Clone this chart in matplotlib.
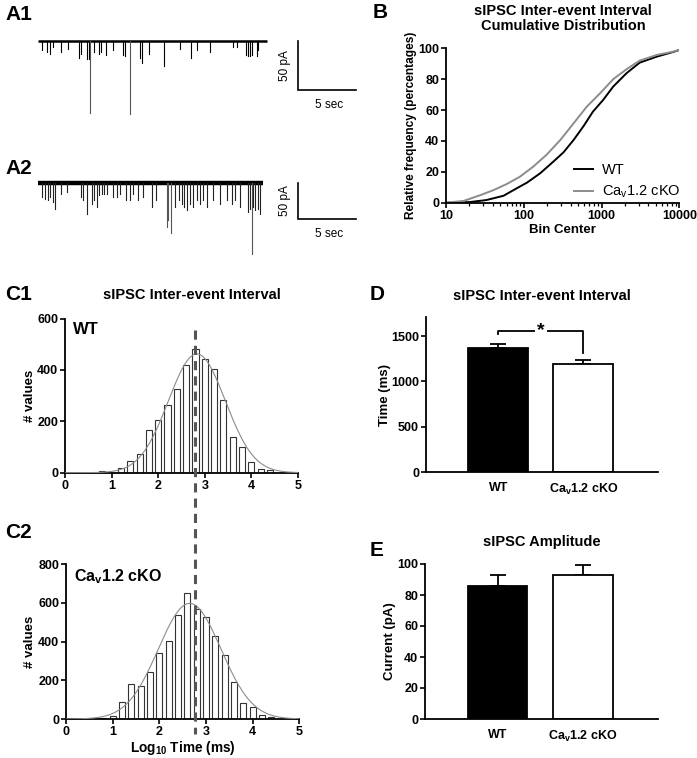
import numpy as np
import matplotlib
matplotlib.use("Agg")
import matplotlib.pyplot as plt
from matplotlib.lines import Line2D
import matplotlib.transforms as mtransforms

plt.rcParams['font.family'] = ['Liberation Sans', 'DejaVu Sans']
plt.rcParams['font.weight'] = 'bold'
plt.rcParams['axes.labelweight'] = 'bold'
plt.rcParams['mathtext.default'] = 'regular'

W, H = 697, 758

# --- data ---
# A1 / A2: spontaneous IPSC events (time in s, amplitude in pA, downward)
a1_len = 19.7
a1_t = [0.32, 0.75, 1.03, 1.32, 1.98, 2.61, 3.53, 3.71, 4.25, 4.43, 4.51, 4.86, 5.26,
        5.40, 5.86, 6.44, 7.36, 7.50, 7.96, 8.79, 8.94, 9.57, 10.86, 12.24, 13.19,
        13.68, 14.83, 16.84, 17.13, 17.93, 18.10, 18.28, 18.48, 18.85, 19.0]
a1_amp = [9, 11, 13, 6, 11, 8, 18, 13, 19, 19, 73, 11, 13, 11, 14, 9, 14, 16, 74, 18,
          23, 13, 26, 8, 18, 9, 11, 6, 6, 14, 16, 16, 14, 16, 9]
a2_len = 19.4
a2_t = [0.32, 0.60, 0.89, 1.03, 1.32, 1.47, 1.98, 2.47, 3.71, 3.85, 4.25, 4.63, 4.86,
        5.06, 5.26, 5.49, 5.69, 5.92, 6.49, 6.78, 7.07, 7.59, 7.93, 8.22, 8.65, 9.08,
        9.80, 10.17, 11.09, 11.24, 11.44, 11.81, 12.16, 12.39, 12.61, 12.87, 13.10,
        13.39, 13.68, 13.97, 14.25, 14.54, 15.11, 15.69, 16.26, 16.70, 16.98, 17.41,
        18.13, 18.28, 18.42, 18.56, 18.71, 18.99, 19.14]
a2_amp = [19, 22, 24, 19, 26, 36, 15, 12, 19, 24, 43, 29, 24, 33, 17, 15, 15, 15, 19,
          19, 15, 24, 24, 15, 24, 19, 33, 24, 61, 52, 70, 33, 24, 29, 33, 38, 29, 33,
          24, 29, 24, 33, 24, 29, 24, 29, 24, 33, 40, 36, 98, 33, 38, 36, 43]

# B: cumulative distributions
b_wt_ms = [10, 20, 33, 55, 81, 110, 162, 240, 324, 437, 589, 776, 1047, 1413, 2089,
           3090, 5129, 8318, 10000]
b_wt_pct = [0, 0.4, 1.7, 4.5, 9.3, 13, 19, 26.6, 32.6, 40.6, 49.7, 59, 66.5, 75.2,
            83.8, 90.7, 94.6, 97.6, 98.9]
b_ko_ms = [10, 17, 28, 41, 60, 89, 132, 195, 295, 437, 646, 955, 1413, 2089, 3090,
           5129, 8318, 10000]
b_ko_pct = [0, 1.2, 5, 8.2, 12, 16.8, 23.3, 30.9, 40.6, 51.4, 62.2, 70.8, 80, 86.4,
            92, 95.7, 97.8, 98.9]

# C1 / C2: histograms of log10 inter-event interval
c_bins = [0.8, 1.0, 1.2, 1.4, 1.6, 1.8, 2.0, 2.2, 2.4, 2.6, 2.8, 3.0, 3.2, 3.4, 3.6,
          3.8, 4.0, 4.2, 4.4]
c1_counts = [8, 0, 17, 44, 72, 166, 204, 263, 326, 421, 482, 443, 404, 283, 140, 99,
             43, 13, 10]
c2_counts = [7, 17, 86, 179, 170, 244, 343, 405, 536, 652, 568, 529, 428, 333, 189,
             81, 62, 19, 9]
c1_fit = (462, 2.83, 0.61)   # amplitude, mean, SD of gaussian fit
c2_fit = (598, 2.65, 0.67)
c_median = 2.78

# D / E: bar graphs
groups = ['WT', 'Ca$_\\mathregular{v}$1.2 cKO']
d_mean = [1365, 1189]
d_sem = [50, 44]
e_mean = [85.8, 92.7]
e_sem = [7.0, 6.5]

TICK = 9
LAB = 9.5
TITLE = 10.5
PANEL = 15


def px(l, t, r, b):
    return [l / W, 1 - b / H, (r - l) / W, (b - t) / H]


def style(ax):
    for s in ['top', 'right']:
        ax.spines[s].set_visible(False)
    for s in ['left', 'bottom']:
        ax.spines[s].set_linewidth(1.3)
    ax.tick_params(width=1.2, length=3.5, labelsize=TICK, pad=1.5)


def ftext(x, y, s, **kw):
    return fig.text(x / W, 1 - y / H, s, **kw)


def ylabel_at(ax, box, xpix):
    # xpix: right edge (pixels) of the rotated y label
    ax.yaxis.set_label_coords((xpix - box[0]) / (box[2] - box[0]), 0.5)


fig = plt.figure(figsize=(W / 100, H / 100), dpi=100)

# ---------------- A1 / A2 traces ----------------
for (top, bot, base_px, ppa, tt, amp, length, lw, col, lab, lab_y) in [
        (30, 120, 40.7, 0.986, a1_t, a1_amp, a1_len, 1.8, 'black', 'A1', 15),
        (170, 262, 183, 0.72, a2_t, a2_amp, a2_len, 3.2, '#222222', 'A2', 169)]:
    ax = fig.add_axes(px(38, top, 362, bot))
    ax.set_xlim(0, (362 - 38) / 11.6)
    ax.set_ylim(-(bot - base_px) / ppa, (base_px - top) / ppa)
    ax.axis('off')
    ax.plot([0, length], [0, 0], color='black', lw=lw, solid_capstyle='butt')
    for t, a in zip(tt, amp):
        c = col if a < 50 else '#555555'
        ax.plot([t, t], [0, -a], color=c, lw=0.8)
    x0 = (297.5 - 38) / 11.6
    ax.plot([x0, x0, x0 + 5], [0, -50, -50], color='black', lw=1.2,
            solid_joinstyle='miter')
    ax.text(x0 - 0.6, -25, '50 pA', rotation=90, ha='right', va='center',
            fontsize=8.5, fontweight='normal')
    ax.text(x0 + 2.7, -50 - 9 / ppa, '5 sec', ha='center', va='top',
            fontsize=8.5, fontweight='normal')
    ftext(5, lab_y, lab, fontsize=PANEL, fontweight='bold', va='center')

# ---------------- B ----------------
box_b = (446, 48.3, 679.3, 202.7)
axb = fig.add_axes(px(*box_b))
style(axb)
axb.set_xscale('log')
axb.plot(b_wt_ms, b_wt_pct, color='black', lw=1.4, label='WT')
axb.plot(b_ko_ms, b_ko_pct, color='#8c8c8c', lw=1.4, label='Ca$_\\mathregular{v}$1.2 cKO')
axb.set_xlim(10, 10000)
axb.set_ylim(0, 100)
axb.set_yticks([0, 20, 40, 60, 80, 100])
axb.set_xticks([10, 100, 1000, 10000])
axb.set_xticklabels(['10', '100', '1000', '10000'])
axb.tick_params(which='minor', length=2.5, width=0.9)
axb.set_xlabel('Bin Center', fontsize=LAB, labelpad=2)
axb.set_ylabel('Relative frequency (percentages)', fontsize=8.6)
ylabel_at(axb, box_b, 417)
leg = axb.legend(loc='lower right', bbox_to_anchor=(1.06, -0.07), frameon=False,
                 handlelength=1.3, handletextpad=0.6, labelspacing=0.45,
                 prop={'size': 10.5, 'weight': 'normal'})
ftext(563, 11, 'sIPSC Inter-event Interval', fontsize=TITLE, fontweight='bold',
      ha='center', va='center')
ftext(563, 26, 'Cumulative Distribution', fontsize=TITLE, fontweight='bold',
      ha='center', va='center')
ftext(373, 13, 'B', fontsize=PANEL, fontweight='bold', va='center')

# ---------------- C1 / C2 ----------------
xs = np.linspace(0, 5, 300)
for (box, counts, fit, ymax, yt, lab, inner, lab_y, inner_y, inner_fs) in [
        ((65, 318.5, 298, 472.7), c1_counts, c1_fit, 600, [0, 200, 400, 600], 'C1',
         'WT', 295, 329, 12),
        ((66, 564.3, 299.3, 719), c2_counts, c2_fit, 800, [0, 200, 400, 600, 800], 'C2',
         'Ca$_\\mathregular{v}$1.2 cKO', 532, 577, 11.5)]:
    ax = fig.add_axes(px(*box))
    style(ax)
    ax.bar(c_bins, counts, width=0.13, facecolor='white', edgecolor='#333333', lw=0.8,
           zorder=2)
    amp, mu, sd = fit
    ax.plot(xs, amp * np.exp(-(xs - mu) ** 2 / (2 * sd ** 2)), color='#8c8c8c', lw=0.8,
            zorder=3)
    ax.set_xlim(0, 5)
    ax.set_ylim(0, ymax)
    ax.set_yticks(yt)
    ax.set_xticks([0, 1, 2, 3, 4, 5])
    ax.set_ylabel('# values', fontsize=LAB)
    ylabel_at(ax, box, 36)
    ftext(box[0] + 8, inner_y, inner, fontsize=inner_fs, fontweight='bold', va='center')
    ftext(5, lab_y, lab, fontsize=PANEL, fontweight='bold', va='center')
    if lab == 'C1':
        ftext(192, 295, 'sIPSC Inter-event Interval', fontsize=TITLE, fontweight='bold',
              ha='center', va='center')
        ax_c1 = ax
    else:
        ax.set_xlabel('Log$_{10}$ Time (ms)', fontsize=LAB + 0.3, labelpad=0.5)

trans = mtransforms.blended_transform_factory(ax_c1.transData, fig.transFigure)
fig.add_artist(Line2D([c_median, c_median], [1 - 330 / H, 1 - 734 / H], transform=trans,
                      color='#555555', lw=2.2, linestyle=(0, (3, 2))))

# ---------------- D / E ----------------
for (box, mean, sem, ymax, yt, ylab, title, lab, lab_y, title_y, ylab_x) in [
        ((426, 317.3, 658, 472.3), d_mean, d_sem, 1707, [0, 500, 1000, 1500],
         'Time (ms)', 'sIPSC Inter-event Interval', 'D', 295, 296, 391),
        ((425, 564, 658, 719), e_mean, e_sem, 100, [0, 20, 40, 60, 80, 100],
         'Current (pA)', 'sIPSC Amplitude', 'E', 550, 542, 396)]:
    ax = fig.add_axes(px(*box))
    style(ax)
    pos = [1, 2]
    ax.bar(pos, mean, width=0.7, color=['black', 'white'], edgecolor='black', lw=1.3,
           zorder=2)
    ax.errorbar(pos, mean, yerr=[[0, 0], sem], fmt='none', ecolor='black', elinewidth=1.3,
                capsize=6, capthick=1.3, zorder=1)
    ax.set_xlim(0.15, 2.88)
    ax.set_ylim(0, ymax)
    ax.set_yticks(yt)
    ax.set_xticks(pos)
    ax.set_xticklabels(groups)
    ax.tick_params(axis='x', length=0, pad=7)
    ax.set_ylabel(ylab, fontsize=LAB)
    ylabel_at(ax, box, ylab_x)
    ftext(542, title_y, title, fontsize=TITLE, fontweight='bold', ha='center',
          va='center')
    ftext(370, lab_y, lab, fontsize=PANEL, fontweight='bold', va='center')
    if lab == 'D':
        ax.plot([1, 1, 2, 2], [1520, 1556, 1556, 1311], color='black', lw=1.3, zorder=3)
        ax.text(1.5, 1556, '*', ha='center', va='center', fontsize=14, fontweight='bold',
                bbox=dict(facecolor='white', edgecolor='none', pad=1.5), zorder=4)

fig.savefig('out.png', dpi=100, facecolor='white')
